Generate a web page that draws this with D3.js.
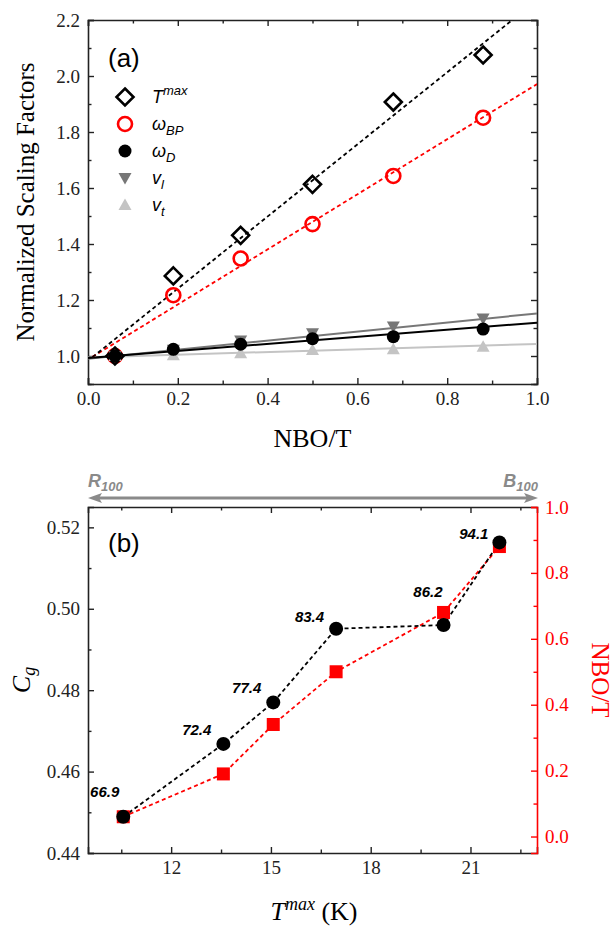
<!DOCTYPE html>
<html><head><meta charset="utf-8">
<script src="https://cdn.jsdelivr.net/npm/d3@7"></script>
<style>body{margin:0;background:#fff}svg{display:block}</style>
</head><body>
<script>
// ---------- Data: panel (a) ----------
const nbo = [0.06, 0.19, 0.34, 0.50, 0.68, 0.88];
const tmaxNorm = [1.00, 1.286, 1.431, 1.613, 1.907, 2.075];
const omegaBP = [1.00, 1.217, 1.348, 1.471, 1.643, 1.851];
const omegaD = [1.00, 1.024, 1.042, 1.062, 1.069, 1.096];
const vL = [1.00, 1.022, 1.055, 1.081, 1.105, 1.134];
const vT = [1.00, 1.003, 1.010, 1.021, 1.024, 1.033];
// fit lines: [x, y] endpoints
const fitTmax = [[0.01, 0.996], [1.0, 2.271]];
const fitBP = [[0.01, 0.997], [1.0, 1.971]];
const fitD = [[0.0, 0.993], [1.0, 1.119]];
const fitL = [[0.0, 0.990], [1.0, 1.152]];
const fitT = [[0.0, 0.995], [1.0, 1.043]];
const xTicksA = [0, 0.2, 0.4, 0.6, 0.8, 1.0];
const yTicksA = [1.0, 1.2, 1.4, 1.6, 1.8, 2.0, 2.2];

// ---------- Data: panel (b) ----------
const tmaxK = [10.56, 13.57, 15.07, 16.96, 20.19, 21.87];
const cg = [0.4489, 0.4668, 0.4770, 0.4951, 0.4960, 0.5163];
const nboB = [0.06, 0.19, 0.34, 0.50, 0.68, 0.88];
const pointLabels = ["66.9", "72.4", "77.4", "83.4", "86.2", "94.1"];
const xTicksB = [12, 15, 18, 21];
const yTicksB = [0.44, 0.46, 0.48, 0.50, 0.52];
const yTicksBR = [0.0, 0.2, 0.4, 0.6, 0.8, 1.0];

// label offsets (layout only)
const labelOffsets = [[-4, -20], [-12, -9], [-12, -9], [-12, -7], [-1, -28], [-11, -3]];

const W = 615, H = 926;
const svg = d3.select("body").append("svg").attr("width", W).attr("height", H);
const serif = "'Liberation Serif','Times New Roman',serif";
const sans = "'Liberation Sans',Arial,sans-serif";

const L = 88, R = 537;
// scales
const xa = d3.scaleLinear().domain([0, 1]).range([L, R]);
const ya = d3.scaleLinear().domain([0.9, 2.2]).range([384, 20]);
const xb = d3.scaleLinear().domain([9.5, 23]).range([L, R]);
const yb = d3.scaleLinear().domain([0.44, 0.525]).range([853, 507]);
const ybr = d3.scaleLinear().domain([-0.05, 1.0]).range([853, 507]);

function styleAxis(g, color) {
  g.select(".domain").attr("stroke", color).attr("stroke-width", 1.6);
  g.selectAll(".tick line").attr("stroke", color).attr("stroke-width", 1.4);
  g.selectAll("text").attr("fill", color).style("font-family", serif).style("font-size", "19px");
}
function minor(g) { g.selectAll("text").remove(); g.select(".domain").remove(); g.selectAll(".tick line").attr("stroke-width", 1.2); }

function frame(x, y, xMaj, xMin, yMaj, yMin, xFmt, yFmt, rightAxis) {
  const [y0, y1] = y.range();
  const [x0, x1] = x.range();
  const gb = svg.append("g").attr("transform", `translate(0,${y0})`)
    .call(d3.axisBottom(x).tickValues(xMaj).tickSize(-6).tickPadding(8).tickFormat(xFmt));
  styleAxis(gb, "#222");
  const gbm = svg.append("g").attr("transform", `translate(0,${y0})`)
    .call(d3.axisBottom(x).tickValues(xMin).tickSize(-3.5)); minor(gbm); styleAxis(gbm, "#222");
  const gt = svg.append("g").attr("transform", `translate(0,${y1})`)
    .call(d3.axisTop(x).tickValues(xMaj).tickSize(-6).tickFormat(""));
  styleAxis(gt, "#222");
  const gtm = svg.append("g").attr("transform", `translate(0,${y1})`)
    .call(d3.axisTop(x).tickValues(xMin).tickSize(-3.5)); minor(gtm); styleAxis(gtm, "#222");
  const gl = svg.append("g").attr("transform", `translate(${x0},0)`)
    .call(d3.axisLeft(y).tickValues(yMaj).tickSize(-6).tickPadding(8).tickFormat(yFmt));
  styleAxis(gl, "#222");
  const glm = svg.append("g").attr("transform", `translate(${x0},0)`)
    .call(d3.axisLeft(y).tickValues(yMin).tickSize(-3.5)); minor(glm); styleAxis(glm, "#222");
  if (!rightAxis) {
    const gr = svg.append("g").attr("transform", `translate(${x1},0)`)
      .call(d3.axisRight(y).tickValues(yMaj).tickSize(-6).tickFormat(""));
    styleAxis(gr, "#222");
    const grm = svg.append("g").attr("transform", `translate(${x1},0)`)
      .call(d3.axisRight(y).tickValues(yMin).tickSize(-3.5)); minor(grm); styleAxis(grm, "#222");
  }
}

// ================= Panel (a) =================
frame(xa, ya, xTicksA, [0.1, 0.3, 0.5, 0.7, 0.9], yTicksA, [0.9, 1.1, 1.3, 1.5, 1.7, 1.9, 2.1],
  d3.format(".1f"), d3.format(".1f"), false);

svg.append("defs").append("clipPath").attr("id", "clipA").append("rect")
  .attr("x", L).attr("y", 20).attr("width", R - L).attr("height", 364);

const lineA = d3.line().x(d => xa(d[0])).y(d => ya(d[1]));
const gA = svg.append("g").attr("clip-path", "url(#clipA)");
gA.append("path").attr("d", lineA(fitT)).attr("stroke", "#c4c4c4").attr("stroke-width", 2).attr("fill", "none");
gA.append("path").attr("d", lineA(fitL)).attr("stroke", "#777").attr("stroke-width", 2).attr("fill", "none");
gA.append("path").attr("d", lineA(fitD)).attr("stroke", "#000").attr("stroke-width", 2).attr("fill", "none");
gA.append("path").attr("d", lineA(fitBP)).attr("stroke", "#ff0000").attr("stroke-width", 1.8).attr("stroke-dasharray", "4,3").attr("fill", "none");
gA.append("path").attr("d", lineA(fitTmax)).attr("stroke", "#000").attr("stroke-width", 1.8).attr("stroke-dasharray", "4,3").attr("fill", "none");

const triDown = "M-6.5,-5 L6.5,-5 L0,6.5 Z";
const triUp = "M-6.5,5 L6.5,5 L0,-6.5 Z";
const diamond = "M0,-8.5 L8.5,0 L0,8.5 L-8.5,0 Z";

function pts(g, xs, ys, draw) {
  xs.forEach((x, i) => draw(g.append("g").attr("transform", `translate(${xa(x)},${ya(ys[i])})`)));
}
const drawBP = g => g.append("circle").attr("r", 7).attr("fill", "none").attr("stroke", "#ff0000").attr("stroke-width", 2.6);
const drawTmax = g => g.append("path").attr("d", diamond).attr("fill", "none").attr("stroke", "#000").attr("stroke-width", 2.6);
const drawT = g => g.append("path").attr("d", triUp).attr("fill", "#c4c4c4");
const drawL = g => g.append("path").attr("d", triDown).attr("fill", "#777");
const drawD = g => g.append("circle").attr("r", 6.5).attr("fill", "#000");

pts(svg, nbo, omegaBP, drawBP);
pts(svg, nbo, tmaxNorm, drawTmax);
pts(svg, nbo, vT, drawT);
pts(svg, nbo, vL, drawL);
pts(svg, nbo, omegaD, drawD);

// legend
const legendY = [97, 124, 151, 178, 205];
const legendDraw = [drawTmax, drawBP, drawD, drawL, drawT];
const legendText = [["T", "max", "sup"], ["ω", "BP", "sub"], ["ω", "D", "sub"], ["v", "l", "sub"], ["v", "t", "sub"]];
legendY.forEach((y, i) => {
  legendDraw[i](svg.append("g").attr("transform", `translate(125,${y})`));
  const t = svg.append("text").attr("x", 152).attr("y", y + 6).style("font-family", sans)
    .style("font-style", "italic").style("font-size", "18px").attr("fill", "#000");
  t.append("tspan").text(legendText[i][0]);
  const sup = legendText[i][2] === "sup";
  t.append("tspan").text(legendText[i][1]).style("font-size", "13px").attr("dy", sup ? -8 : 5);
});

svg.append("text").attr("x", 108).attr("y", 67).text("(a)").style("font-family", sans).style("font-size", "26px");

svg.append("text").attr("transform", "translate(34,202) rotate(-90)").attr("text-anchor", "middle")
  .text("Normalized Scaling Factors").style("font-family", serif).style("font-size", "25px");
svg.append("text").attr("x", (L + R) / 2).attr("y", 447).attr("text-anchor", "middle")
  .text("NBO/T").style("font-family", serif).style("font-size", "26px");

// ================= Panel (b) =================
frame(xb, yb, xTicksB, [10.5, 13.5, 16.5, 19.5, 22.5], yTicksB, [0.45, 0.47, 0.49, 0.51],
  d3.format("d"), d3.format(".2f"), true);

const gr = svg.append("g").attr("transform", `translate(${R},0)`)
  .call(d3.axisRight(ybr).tickValues(yTicksBR).tickSize(-6).tickPadding(8).tickFormat(d3.format(".1f")));
styleAxis(gr, "#ff0000");
const grm = svg.append("g").attr("transform", `translate(${R},0)`)
  .call(d3.axisRight(ybr).tickValues([0.1, 0.3, 0.5, 0.7, 0.9]).tickSize(-3.5)); minor(grm); styleAxis(grm, "#ff0000");

const lineR = d3.line().x((d, i) => xb(tmaxK[i])).y(d => ybr(d));
const lineC = d3.line().x((d, i) => xb(tmaxK[i])).y(d => yb(d));
svg.append("path").attr("d", lineR(nboB)).attr("stroke", "#ff0000").attr("stroke-width", 1.8).attr("stroke-dasharray", "4,3").attr("fill", "none");
svg.append("path").attr("d", lineC(cg)).attr("stroke", "#000").attr("stroke-width", 1.8).attr("stroke-dasharray", "4,3").attr("fill", "none");
nboB.forEach((v, i) => svg.append("rect").attr("x", xb(tmaxK[i]) - 6.5).attr("y", ybr(v) - 6.5)
  .attr("width", 13).attr("height", 13).attr("fill", "#ff0000"));
cg.forEach((v, i) => svg.append("circle").attr("cx", xb(tmaxK[i])).attr("cy", yb(v)).attr("r", 7).attr("fill", "#000"));
pointLabels.forEach((s, i) => svg.append("text").attr("x", xb(tmaxK[i]) + labelOffsets[i][0])
  .attr("y", yb(cg[i]) + labelOffsets[i][1]).attr("text-anchor", "end").text(s)
  .style("font-family", sans).style("font-weight", "bold").style("font-style", "italic").style("font-size", "15px"));

svg.append("text").attr("x", 108).attr("y", 552).text("(b)").style("font-family", sans).style("font-size", "26px");

// arrow
const arrowY = 498;
svg.append("line").attr("x1", L + 8).attr("x2", R - 8).attr("y1", arrowY).attr("y2", arrowY)
  .attr("stroke", "#8a8a8a").attr("stroke-width", 3);
svg.append("path").attr("d", `M${L},${arrowY} L${L + 14},${arrowY - 5} L${L + 11},${arrowY} L${L + 14},${arrowY + 5} Z`).attr("fill", "#8a8a8a");
svg.append("path").attr("d", `M${R + 1},${arrowY} L${R - 13},${arrowY - 5} L${R - 10},${arrowY} L${R - 13},${arrowY + 5} Z`).attr("fill", "#8a8a8a");
const tR = svg.append("text").attr("x", L).attr("y", 487).style("font-family", sans).style("font-weight", "bold")
  .style("font-style", "italic").style("font-size", "18px").attr("fill", "#8a8a8a");
tR.append("tspan").text("R");
tR.append("tspan").text("100").style("font-size", "13px").attr("dy", 4);
const tB = svg.append("text").attr("x", R + 1).attr("y", 487).attr("text-anchor", "end").style("font-family", sans).style("font-weight", "bold")
  .style("font-style", "italic").style("font-size", "18px").attr("fill", "#8a8a8a");
tB.append("tspan").text("B");
tB.append("tspan").text("100").style("font-size", "13px").attr("dy", 4);

// axis titles
const cgT = svg.append("text").attr("transform", "translate(30,680) rotate(-90)").attr("text-anchor", "middle")
  .style("font-family", serif).style("font-style", "italic").style("font-size", "26px");
cgT.append("tspan").text("C");
cgT.append("tspan").text("g").style("font-size", "18px").attr("dy", 5);
svg.append("text").attr("transform", "translate(592,680) rotate(90)").attr("text-anchor", "middle")
  .text("NBO/T").style("font-family", serif).style("font-size", "25px").attr("fill", "#ff0000");
const tx = svg.append("text").attr("x", 314).attr("y", 920).attr("text-anchor", "middle")
  .style("font-family", serif).style("font-size", "26px");
tx.append("tspan").text("T").style("font-style", "italic");
tx.append("tspan").text("max").style("font-style", "italic").style("font-size", "18px").attr("dy", -10);
tx.append("tspan").text(" (K)").attr("dy", 10);
</script>
</body></html>
